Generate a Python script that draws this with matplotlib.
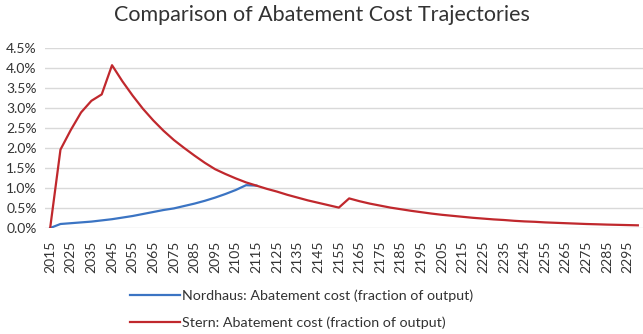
import numpy as np
import matplotlib
matplotlib.use('Agg')
import matplotlib.pyplot as plt
from matplotlib.ticker import PercentFormatter

years = list(range(2015, 2305, 5))

# abatement cost, % of output
nordhaus = [0.00, 0.10, 0.12, 0.14, 0.16, 0.19, 0.22, 0.26, 0.30, 0.35,
            0.40, 0.45, 0.49, 0.55, 0.61, 0.68, 0.76, 0.85, 0.95, 1.07,
            1.06]

stern = [0.00, 1.96, 2.45, 2.89, 3.18, 3.34, 4.07, 3.67, 3.31, 2.98,
         2.69, 2.43, 2.20, 2.00, 1.81, 1.63, 1.47, 1.35, 1.24, 1.14,
         1.06, 0.98, 0.91, 0.83, 0.76, 0.69, 0.63, 0.57, 0.51, 0.74,
         0.67, 0.61, 0.56, 0.51, 0.47, 0.43, 0.395, 0.36, 0.33, 0.305,
         0.28, 0.255, 0.235, 0.215, 0.20, 0.18, 0.165, 0.155, 0.14, 0.13,
         0.12, 0.11, 0.10, 0.093, 0.085, 0.079, 0.073, 0.067]

plt.rcParams['font.family'] = ['Lato', 'DejaVu Sans']
txt = '#333333'

fig = plt.figure(figsize=(6.43, 3.34), dpi=100)
ax = fig.add_axes([45/643, 1 - 228/334, 598/643, 180/334])

x = np.arange(len(years))
ax.plot(x[:len(nordhaus)], nordhaus, color='#3b74c3', lw=1.6,
        label='Nordhaus: Abatement cost (fraction of output)')
ax.plot(x, stern, color='#c0282d', lw=1.6,
        label='Stern: Abatement cost (fraction of output)')

ax.set_xlim(-0.5, len(years) - 0.5)
ax.set_ylim(0, 4.5)
ax.set_yticks(np.arange(0, 4.51, 0.5))
ax.yaxis.set_major_formatter(PercentFormatter(decimals=1))
ax.set_xticks(x[::2])
ax.set_xticklabels([str(y) for y in years[::2]], rotation=90)
ax.tick_params(axis='both', length=0, labelsize=10, colors=txt)
ax.tick_params(axis='x', pad=9)
ax.tick_params(axis='y', pad=6)
ax.grid(axis='y', color='#d9d9d9', lw=1.0)
ax.set_axisbelow(True)
for s in ax.spines.values():
    s.set_visible(False)

fig.text(0.5, 1 - 15/334, 'Comparison of Abatement Cost Trajectories',
         ha='center', va='center', fontsize=15.5, color=txt)

fig.legend(loc='center', bbox_to_anchor=(0.469, 1 - 309/334), ncol=1,
           frameon=False, fontsize=10.3, handlelength=3.5, handletextpad=0.15,
           labelspacing=1.0, labelcolor=txt)

fig.savefig('out.png', dpi=100)
